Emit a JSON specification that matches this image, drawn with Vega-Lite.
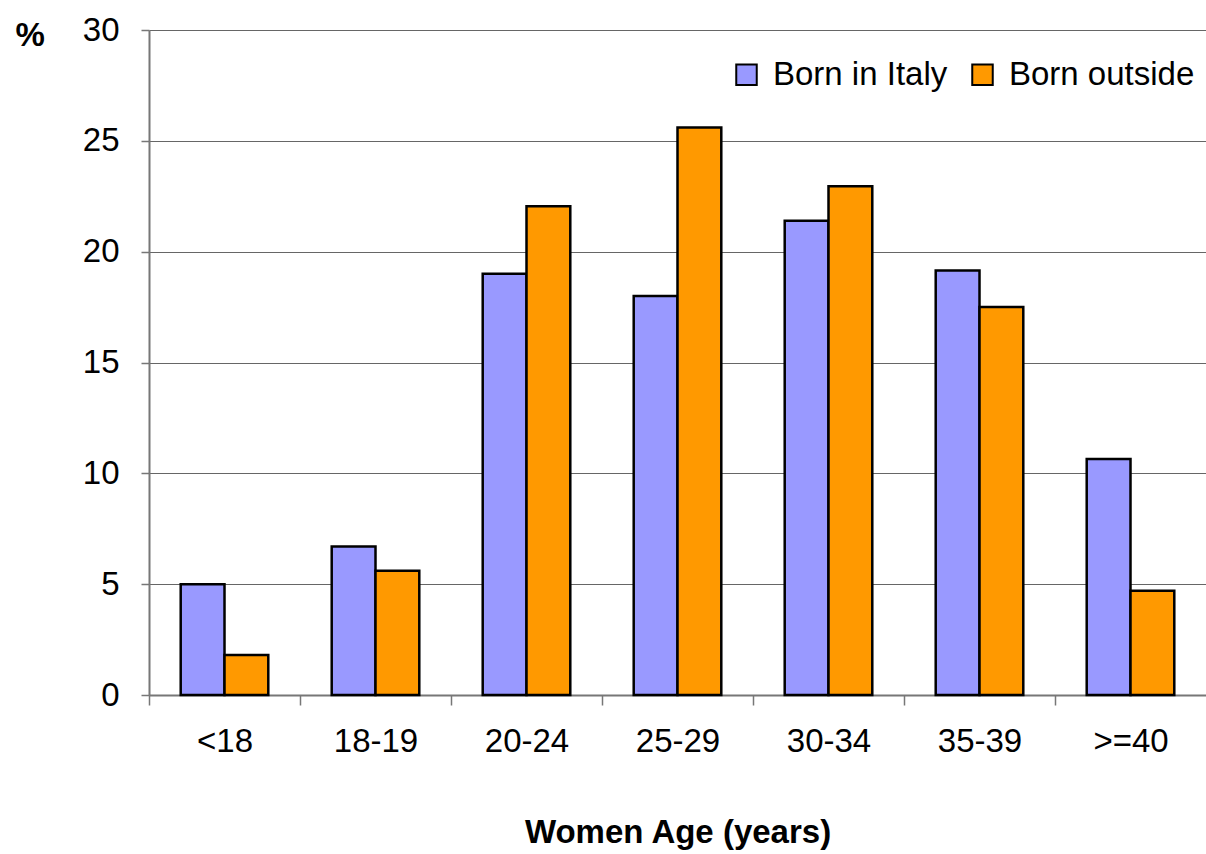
{
  "$schema": "https://vega.github.io/schema/vega-lite/v6.json",
  "width": 1057,
  "height": 665,
  "autosize": {"type": "none"},
  "padding": {"left": 149, "top": 30, "right": 0, "bottom": 159},
  "background": "white",
  "config": {
    "view": {"stroke": null},
    "font": "Liberation Sans"
  },
  "data": {
    "values": [
      {"age": "<18", "origin": "Born in Italy", "pct": 5.0},
      {"age": "<18", "origin": "Born outside", "pct": 1.8},
      {"age": "18-19", "origin": "Born in Italy", "pct": 6.7},
      {"age": "18-19", "origin": "Born outside", "pct": 5.6},
      {"age": "20-24", "origin": "Born in Italy", "pct": 19.0},
      {"age": "20-24", "origin": "Born outside", "pct": 22.05},
      {"age": "25-29", "origin": "Born in Italy", "pct": 18.0},
      {"age": "25-29", "origin": "Born outside", "pct": 25.6},
      {"age": "30-34", "origin": "Born in Italy", "pct": 21.4},
      {"age": "30-34", "origin": "Born outside", "pct": 22.95},
      {"age": "35-39", "origin": "Born in Italy", "pct": 19.15},
      {"age": "35-39", "origin": "Born outside", "pct": 17.5},
      {"age": ">=40", "origin": "Born in Italy", "pct": 10.65},
      {"age": ">=40", "origin": "Born outside", "pct": 4.7}
    ]
  },
  "mark": {"type": "bar", "stroke": "black", "strokeWidth": 2.5},
  "encoding": {
    "x": {
      "field": "age",
      "type": "nominal",
      "sort": ["<18", "18-19", "20-24", "25-29", "30-34", "35-39", ">=40"],
      "scale": {"paddingInner": 0.42, "paddingOuter": 0.21},
      "axis": {
        "title": "Women Age (years)",
        "titleFontSize": 33,
        "titleFontWeight": "bold",
        "titleColor": "black",
        "titlePadding": 58,
        "labelAngle": 0,
        "labelFontSize": 33,
        "labelColor": "black",
        "labelPadding": 20,
        "labelFontWeight": "normal",
        "labelOffset": 75.5,
        "tickBand": "center",
        "tickOffset": -75.5,
        "tickSize": 10,
        "tickColor": "#777777",
        "tickWidth": 1.5,
        "domainColor": "#777777",
        "domainWidth": 2,
        "grid": false
      }
    },
    "xOffset": {
      "field": "origin",
      "type": "nominal",
      "scale": {"paddingInner": 0, "paddingOuter": 0}
    },
    "y": {
      "field": "pct",
      "type": "quantitative",
      "scale": {"domain": [0, 30], "nice": false},
      "axis": {
        "title": "%",
        "titleAngle": 0,
        "titleAlign": "left",
        "titleBaseline": "alphabetic",
        "titleX": -134,
        "titleY": 15,
        "titleFontSize": 33,
        "titleFontWeight": "bold",
        "titleColor": "black",
        "values": [0, 5, 10, 15, 20, 25, 30],
        "labelFontSize": 33,
        "labelColor": "black",
        "labelPadding": 22,
        "tickSize": 8,
        "tickColor": "#777777",
        "tickWidth": 1.5,
        "domainColor": "#777777",
        "domainWidth": 2,
        "grid": true,
        "gridColor": "#666666",
        "gridWidth": 1.2
      }
    },
    "color": {
      "field": "origin",
      "type": "nominal",
      "scale": {"domain": ["Born in Italy", "Born outside"], "range": ["#9999FF", "#FF9900"]},
      "legend": {
        "title": null,
        "orient": "none",
        "legendX": 581,
        "legendY": 28,
        "direction": "horizontal",
        "symbolType": "square",
        "symbolSize": 420,
        "symbolStrokeColor": "black",
        "symbolStrokeWidth": 2,
        "symbolOpacity": 1,
        "labelFontSize": 33,
        "labelColor": "black",
        "labelOffset": 10,
        "columnPadding": 18,
        "labelLimit": 300
      }
    }
  }
}
